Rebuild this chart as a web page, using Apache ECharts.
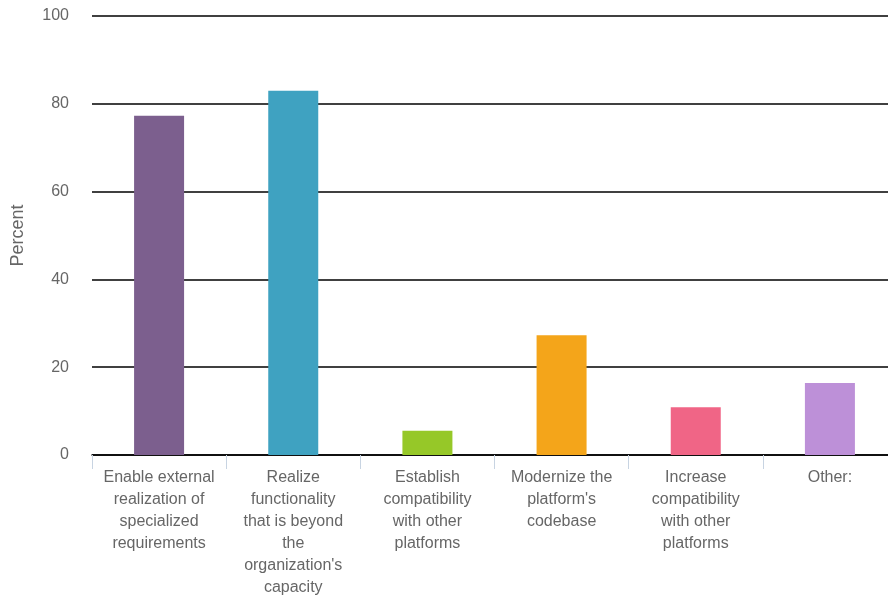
<!DOCTYPE html>
<html>
<head>
<meta charset="utf-8">
<script src="https://cdn.jsdelivr.net/npm/echarts@6/dist/echarts.min.js"></script>
<style>
  html, body { margin: 0; padding: 0; background: #fff; }
  #chart { width: 888px; height: 600px; }
</style>
</head>
<body>
<div id="chart"></div>
<script>
// Reasons for external development, share of respondents (%)
const categories = [
  "Enable external\nrealization of\nspecialized\nrequirements",
  "Realize\nfunctionality\nthat is beyond\nthe\norganization's\ncapacity",
  "Establish\ncompatibility\nwith other\nplatforms",
  "Modernize the\nplatform's\ncodebase",
  "Increase\ncompatibility\nwith other\nplatforms",
  "Other:"
];
const values = [77.3, 83.0, 5.5, 27.3, 10.9, 16.4];
const barColors = ["#7c5f8e", "#3fa2c1", "#96c828", "#f4a51a", "#f06586", "#bd90d8"];
const yTicks = [0, 20, 40, 60, 80, 100];

const chart = echarts.init(document.getElementById('chart'), null, { renderer: 'canvas' });
chart.setOption({
  animation: false,
  textStyle: { fontFamily: 'Liberation Sans, Arial, Helvetica, sans-serif' },
  // the plot area runs a few pixels past the right edge of the canvas
  grid: { left: 92, width: 805, top: 16, height: 439, containLabel: false, outerBoundsMode: 'none' },
  xAxis: {
    type: 'category',
    data: categories,
    axisLine: { show: true, lineStyle: { color: '#000', width: 1.5 } },
    axisTick: { show: true, length: 14, lineStyle: { color: '#c8d4e2', width: 1 } },
    axisLabel: {
      interval: 0,
      color: '#666',
      fontSize: 16,
      lineHeight: 22,
      margin: 12,
      align: 'center'
    }
  },
  yAxis: {
    type: 'value',
    min: yTicks[0],
    max: yTicks[yTicks.length - 1],
    interval: 20,
    name: 'Percent',
    nameLocation: 'middle',
    nameRotate: 90,
    nameGap: 65,
    nameTextStyle: { color: '#666', fontSize: 18 },
    axisLine: { show: false },
    axisTick: { show: false },
    axisLabel: { color: '#666', fontSize: 16, margin: 23 },
    splitLine: { show: true, lineStyle: { color: '#000', width: 1.5 } }
  },
  series: [{
    type: 'bar',
    data: values.map((v, i) => ({ value: v, itemStyle: { color: barColors[i] } })),
    barWidth: 50,
    z: 1
  }]
});
</script>
</body>
</html>
